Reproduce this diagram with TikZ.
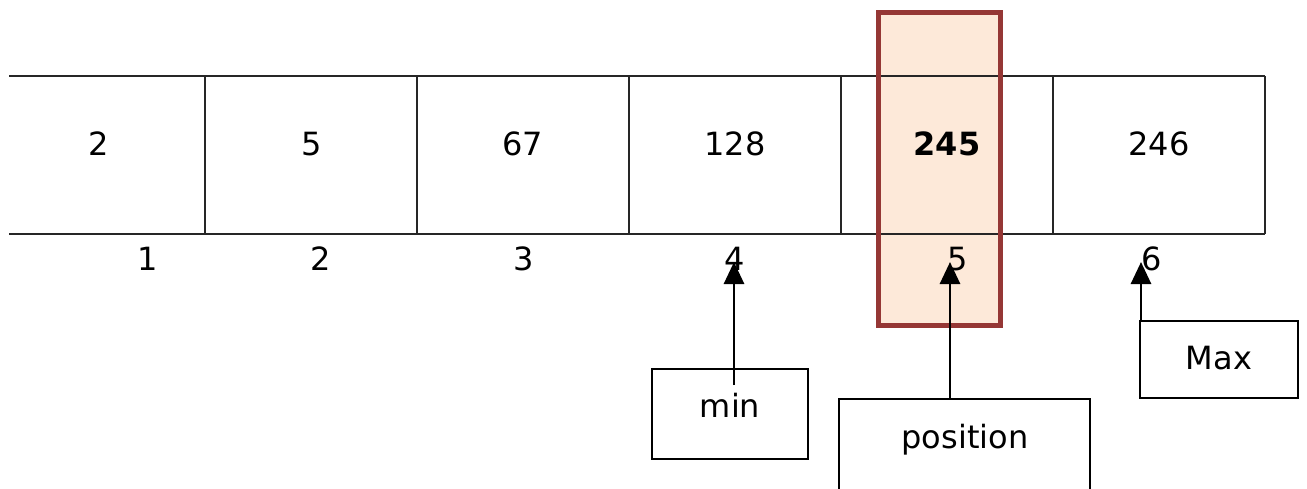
\documentclass[tikz,border=0pt]{standalone}
\usepackage{fontspec}
\setmainfont{DejaVu Sans}
\usetikzlibrary{arrows.meta}
\definecolor{hlred}{HTML}{953735}
\definecolor{hlfill}{HTML}{FDE9D9}
\tikzset{
  gridline/.style={line width=1.3pt, black!85},
  txt/.style={font=\fontsize{32}{38}\selectfont, inner sep=0pt, anchor=base},
  boxed/.style={draw, line width=2pt, inner sep=0pt},
  ptr/.style={line width=2.8pt, -{Triangle[width=20pt,length=22pt]}},
  hlbox/.style={draw=hlred, line width=5pt, inner sep=0pt}
}
\begin{document}
\begin{tikzpicture}[x=1pt,y=-1pt]
  \useasboundingbox (0,0) rectangle (1307,488);
  \clip (0,0) rectangle (1307,488);

  % highlighted column (fill first, grid lines on top)
  \fill[hlfill] (878.5,12.5) rectangle (1000.5,325.5);

  % array grid
  \draw[gridline] (9,76) -- (1265,76);
  \draw[gridline] (9,234) -- (1265,234);
  \foreach \x in {205,417,629,841,1053,1265}
    \draw[gridline] (\x,76) -- (\x,234);

  % border of the highlighted column
  \node[hlbox, minimum width=122pt, minimum height=313pt] (hl) at (939.5,169) {};

  % cell values
  \node[txt] (v1) at (99,155) {2};
  \node[txt] (v2) at (312,155) {5};
  \node[txt] (v3) at (523,155) {67};
  \node[txt] (v4) at (735,155) {128};
  \node[txt] (v5) at (947,155) {\bfseries 245};
  \node[txt] (v6) at (1159,155) {246};

  % indices
  \node[txt] (i1) at (148,270) {1};
  \node[txt] (i2) at (321,270) {2};
  \node[txt] (i3) at (524,270) {3};
  \node[txt] (i4) at (735,270) {4};
  \node[txt] (i5) at (958,270) {5};
  \node[txt] (i6) at (1152,270) {6};

  % label boxes
  \node[boxed, minimum width=156pt, minimum height=90pt] (minbox) at (730,414) {};
  \node[txt] (mintext) at (730,417) {min};
  \node[boxed, minimum width=251pt, minimum height=120pt] (posbox) at (964.5,459) {};
  \node[txt] (postext) at (965,448) {position};
  \node[boxed, minimum width=158pt, minimum height=77pt] (maxbox) at (1219,359.5) {};
  \node[txt] (maxtext) at (1219,369) {Max};

  % pointers
  \coordinate (minstart) at (734,385);
  \coordinate (mintip) at (734,262);
  \coordinate (postip) at (950,262);
  \coordinate (maxtip) at (1141,262);
  \draw[ptr] (minstart) -- (mintip);
  \draw[ptr] (posbox.north -| postip) -- (postip);
  \draw[ptr] (maxbox.north -| maxtip) -- (maxtip);
\end{tikzpicture}
\end{document}
